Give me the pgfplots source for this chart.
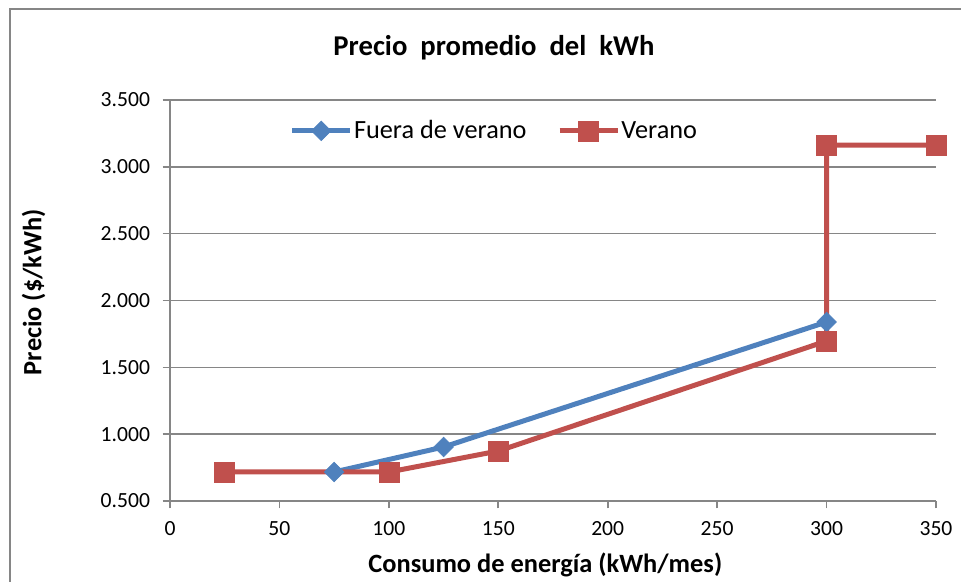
\documentclass[border=0pt]{standalone}
\usepackage{fontspec}
\setmainfont{Carlito}
\usepackage{pgfplots}
\pgfplotsset{compat=1.18}

\definecolor{serieazul}{HTML}{4F81BD}
\definecolor{serieroja}{HTML}{C0504D}
\definecolor{ejes}{HTML}{868686}

\begin{document}
\begin{tikzpicture}
\useasboundingbox (0,0) rectangle (720.75pt,436.5pt);
% marco del grafico
\draw[ejes, line width=1.5pt] (7.5pt,0pt) -- (7.5pt,429.4pt) -- (720.75pt,429.4pt);
\begin{axis}[
  at={(127.5pt,60.75pt)}, anchor=south west,
  scale only axis, width=574.5pt, height=300.75pt,
  xmin=0, xmax=350, ymin=0.5, ymax=3.5,
  xtick={0,50,...,350}, ytick={0.5,1,...,3.5},
  axis x line=bottom, axis y line=left,
  axis line style={-, ejes, line width=1.2pt},
  ymajorgrids, grid style={ejes, line width=1.2pt},
  tick style={ejes, line width=1.2pt},
  tick align=outside, major tick length=5.5pt,
  tick label style={font=\fontsize{16.2}{19}\selectfont},
  /pgf/number format/assume math mode=true,
  yticklabel style={xshift=-6pt, /pgf/number format/.cd, fixed, fixed zerofill, precision=3},
  xticklabel style={yshift=-6.5pt, /pgf/number format/.cd, fixed, precision=0},
  clip=false,
  title={\fontsize{21.5}{25}\selectfont\bfseries Precio\ \ promedio\ \ del\ \ kWh},
  title style={at={(axis description cs:0.423,1.11)}, anchor=center},
  xlabel={\fontsize{19.8}{24}\selectfont\bfseries Consumo de energía (kWh/mes)},
  xlabel style={at={(axis description cs:0.49,-0.16)}, anchor=center},
  ylabel={\fontsize{19.8}{24}\selectfont\bfseries Precio (\$/kWh)},
  ylabel style={at={(axis description cs:-0.178,0.521)}, anchor=center, rotate=0},
  legend style={at={(axis description cs:0.423,0.923)}, anchor=center,
    draw=none, fill=none, legend columns=2,
    font=\fontsize{19.7}{24}\selectfont,
    /tikz/every even column/.append style={column sep=22pt},
    nodes={inner xsep=1pt}},
  legend cell align=left,
  legend image code/.code={%
    \draw[mark repeat=2, mark phase=2, #1] plot coordinates {(0pt,0pt) (21.75pt,0pt) (43.5pt,0pt)};},
]
\addplot[serieazul, line width=3.75pt, mark=square*, mark size=5.2pt,
  mark options={solid, rotate=45, fill=serieazul, draw=serieazul, line width=0.5pt}]
  coordinates {(75,0.717) (125,0.904) (300,1.839)};
\addlegendentry{Fuera de verano}
\addplot[serieroja, line width=3.75pt, mark=square*, mark size=7.5pt,
  mark options={solid, fill=serieroja, draw=serieroja, line width=0.5pt}]
  coordinates {(25,0.717) (100,0.717) (150,0.874) (300,1.697) (300,3.163) (350,3.163)};
\addlegendentry{Verano}
\end{axis}
\end{tikzpicture}
\end{document}
